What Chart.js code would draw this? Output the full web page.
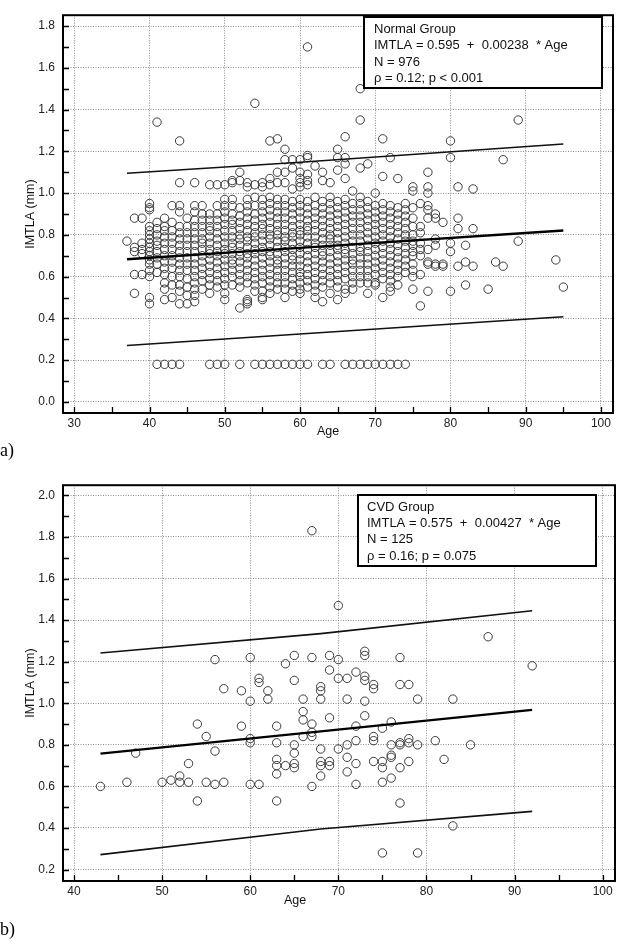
<!DOCTYPE html>
<html>
<head>
<meta charset="utf-8">
<script src="https://cdn.jsdelivr.net/npm/chart.js@4.4.0/dist/chart.umd.min.js"></script>
<style>
html, body { margin: 0; padding: 0; background: #fff; }
body { width: 623px; height: 945px; position: relative; overflow: hidden; }
.wrap { position: absolute; left: 0; width: 623px; }
#wa { top: 0; height: 470px; }
#wb { top: 470px; height: 475px; }
.tag { position: absolute; left: 0; font-family: "Liberation Serif", "Times New Roman", serif; font-size: 18px; line-height: 18px; color: #000; }
</style>
</head>
<body>
<div class="wrap" id="wa"><canvas id="chartA" width="623" height="470"></canvas></div>
<div class="wrap" id="wb"><canvas id="chartB" width="623" height="475"></canvas></div>
<div class="tag" style="top:441px">a)</div>
<div class="tag" style="top:920px">b)</div>
<script>
// ---- a) Normal group: ages and the IMTLA values seen at each age ----
const normalAge = [37, 38, 39, 40, 41, 42, 43, 44, 45, 46, 47, 48, 49, 50, 51, 52, 53, 54, 55, 56,
  57, 58, 59, 60, 61, 62, 63, 64, 65, 66, 67, 68, 69, 70, 71, 72, 73, 74, 75, 76, 77, 78, 79, 80,
  81, 82, 83, 85, 86, 87, 89, 94, 95];
const normalIMT = [
  [0.77],
  [0.88, 0.74, 0.72, 0.61, 0.52],
  [0.88, 0.76, 0.73, 0.71, 0.61],
  [0.95, 0.93, 0.92, 0.84, 0.82, 0.80, 0.78, 0.76, 0.74, 0.72, 0.70, 0.68, 0.66, 0.63, 0.60, 0.50, 0.47],
  [1.34, 0.86, 0.83, 0.80, 0.77, 0.75, 0.72, 0.69, 0.66, 0.62, 0.18],
  [0.88, 0.84, 0.82, 0.79, 0.76, 0.73, 0.70, 0.67, 0.64, 0.61, 0.57, 0.54, 0.49, 0.18],
  [0.94, 0.86, 0.82, 0.79, 0.76, 0.73, 0.70, 0.67, 0.64, 0.60, 0.56, 0.50, 0.18],
  [1.25, 1.05, 0.94, 0.91, 0.84, 0.81, 0.78, 0.75, 0.72, 0.69, 0.66, 0.63, 0.60, 0.56, 0.53, 0.47, 0.18],
  [0.88, 0.84, 0.81, 0.78, 0.75, 0.72, 0.69, 0.66, 0.63, 0.59, 0.55, 0.51, 0.47],
  [1.05, 0.94, 0.91, 0.87, 0.84, 0.81, 0.78, 0.75, 0.72, 0.69, 0.66, 0.63, 0.60, 0.57, 0.54, 0.51, 0.48],
  [0.94, 0.90, 0.87, 0.84, 0.81, 0.78, 0.76, 0.73, 0.70, 0.67, 0.64, 0.61, 0.58, 0.54],
  [1.04, 0.90, 0.87, 0.84, 0.82, 0.79, 0.76, 0.73, 0.71, 0.68, 0.65, 0.62, 0.59, 0.56, 0.52, 0.18],
  [1.04, 0.94, 0.90, 0.87, 0.84, 0.81, 0.78, 0.75, 0.72, 0.70, 0.67, 0.64, 0.61, 0.58, 0.55, 0.18],
  [1.04, 0.97, 0.94, 0.91, 0.88, 0.85, 0.82, 0.79, 0.76, 0.73, 0.71, 0.68, 0.65, 0.62, 0.59, 0.56, 0.52, 0.49, 0.18],
  [1.06, 1.05, 0.97, 0.94, 0.90, 0.87, 0.85, 0.82, 0.79, 0.76, 0.74, 0.71, 0.68, 0.66, 0.63, 0.60, 0.56],
  [1.10, 1.06, 0.93, 0.89, 0.86, 0.83, 0.80, 0.78, 0.75, 0.72, 0.70, 0.67, 0.64, 0.61, 0.58, 0.55, 0.45, 0.18],
  [1.05, 1.03, 0.97, 0.94, 0.91, 0.88, 0.85, 0.82, 0.79, 0.77, 0.74, 0.71, 0.69, 0.66, 0.63, 0.60, 0.57, 0.49, 0.48, 0.47],
  [1.43, 1.04, 0.98, 0.94, 0.90, 0.87, 0.84, 0.81, 0.79, 0.76, 0.73, 0.71, 0.68, 0.65, 0.62, 0.59, 0.56, 0.53, 0.18],
  [1.05, 1.03, 0.97, 0.94, 0.91, 0.88, 0.85, 0.83, 0.80, 0.77, 0.74, 0.72, 0.69, 0.66, 0.63, 0.60, 0.57, 0.53, 0.50, 0.49, 0.18],
  [1.25, 1.07, 1.04, 0.98, 0.95, 0.92, 0.89, 0.86, 0.83, 0.80, 0.78, 0.75, 0.72, 0.70, 0.67, 0.64, 0.61, 0.58, 0.55, 0.52, 0.18],
  [1.26, 1.10, 1.05, 0.97, 0.94, 0.91, 0.88, 0.85, 0.82, 0.80, 0.77, 0.74, 0.71, 0.68, 0.66, 0.63, 0.60, 0.57, 0.54, 0.18],
  [1.21, 1.16, 1.10, 1.05, 0.97, 0.94, 0.91, 0.88, 0.85, 0.82, 0.79, 0.77, 0.74, 0.72, 0.69, 0.66, 0.63, 0.60, 0.57, 0.54, 0.50, 0.18],
  [1.16, 1.12, 1.02, 0.96, 0.93, 0.90, 0.87, 0.84, 0.81, 0.79, 0.76, 0.73, 0.70, 0.68, 0.65, 0.62, 0.59, 0.56, 0.53, 0.18],
  [1.16, 1.10, 1.07, 1.05, 1.03, 0.97, 0.94, 0.91, 0.88, 0.85, 0.82, 0.80, 0.77, 0.74, 0.71, 0.68, 0.65, 0.62, 0.60, 0.57, 0.54, 0.52, 0.18],
  [1.70, 1.18, 1.17, 1.09, 1.06, 1.04, 0.96, 0.93, 0.90, 0.87, 0.84, 0.82, 0.79, 0.76, 0.73, 0.70, 0.67, 0.64, 0.61, 0.58, 0.55, 0.18],
  [1.13, 0.98, 0.94, 0.91, 0.88, 0.85, 0.82, 0.79, 0.76, 0.74, 0.71, 0.68, 0.65, 0.62, 0.59, 0.56, 0.53, 0.50],
  [1.10, 1.06, 0.96, 0.93, 0.90, 0.87, 0.84, 0.81, 0.78, 0.75, 0.72, 0.70, 0.67, 0.64, 0.61, 0.58, 0.55, 0.48, 0.18],
  [1.05, 0.98, 0.95, 0.92, 0.89, 0.86, 0.83, 0.80, 0.78, 0.75, 0.72, 0.69, 0.66, 0.63, 0.60, 0.57, 0.52, 0.18],
  [1.21, 1.17, 1.11, 0.96, 0.93, 0.90, 0.87, 0.84, 0.81, 0.78, 0.75, 0.73, 0.70, 0.67, 0.64, 0.61, 0.58, 0.55, 0.49],
  [1.27, 1.17, 1.14, 1.07, 0.97, 0.94, 0.91, 0.88, 0.85, 0.82, 0.79, 0.76, 0.73, 0.71, 0.68, 0.65, 0.62, 0.59, 0.54, 0.52, 0.18],
  [1.01, 0.95, 0.92, 0.89, 0.86, 0.83, 0.80, 0.77, 0.74, 0.71, 0.68, 0.66, 0.63, 0.60, 0.57, 0.54, 0.18],
  [1.50, 1.35, 1.12, 0.98, 0.95, 0.92, 0.89, 0.86, 0.83, 0.80, 0.77, 0.74, 0.72, 0.69, 0.66, 0.63, 0.60, 0.57, 0.18],
  [1.14, 0.96, 0.93, 0.90, 0.87, 0.84, 0.81, 0.78, 0.75, 0.72, 0.69, 0.66, 0.63, 0.60, 0.57, 0.52, 0.18],
  [1.00, 0.94, 0.91, 0.88, 0.85, 0.82, 0.79, 0.76, 0.73, 0.70, 0.67, 0.64, 0.61, 0.57, 0.56, 0.18],
  [1.26, 1.08, 0.95, 0.92, 0.89, 0.86, 0.83, 0.80, 0.77, 0.74, 0.71, 0.68, 0.65, 0.62, 0.59, 0.50, 0.18],
  [1.17, 0.94, 0.91, 0.88, 0.85, 0.82, 0.79, 0.76, 0.73, 0.70, 0.67, 0.64, 0.61, 0.58, 0.55, 0.53, 0.18],
  [1.07, 0.93, 0.90, 0.87, 0.84, 0.81, 0.78, 0.75, 0.72, 0.69, 0.66, 0.63, 0.60, 0.56, 0.18],
  [0.95, 0.92, 0.89, 0.86, 0.83, 0.80, 0.77, 0.74, 0.71, 0.68, 0.65, 0.62, 0.18],
  [1.03, 1.01, 0.93, 0.88, 0.84, 0.80, 0.77, 0.75, 0.72, 0.70, 0.66, 0.63, 0.60, 0.54],
  [0.95, 0.84, 0.81, 0.76, 0.73, 0.70, 0.61, 0.46],
  [1.10, 1.03, 1.00, 0.94, 0.92, 0.88, 0.73, 0.67, 0.66, 0.53],
  [0.90, 0.88, 0.78, 0.75, 0.66, 0.65],
  [0.86, 0.66, 0.65],
  [1.25, 1.17, 0.76, 0.72, 0.53],
  [1.03, 0.88, 0.83, 0.65],
  [0.75, 0.67, 0.56],
  [1.02, 0.83, 0.65],
  [0.54],
  [0.67],
  [1.16, 0.65],
  [1.35, 0.77],
  [0.68],
  [0.55]
];
// regression line and prediction band
const normalFitAge = [37, 60, 95];
const normalFit = [0.683, 0.738, 0.821];
const normalUpper = [1.095, 1.148, 1.235];
const normalLower = [0.270, 0.325, 0.408];
const normalText = ['Normal Group', 'IMTLA = 0.595  +  0.00238  * Age', 'N = 976', '\u03c1 = 0.12; p < 0.001'];

// ---- b) CVD group ----
const cvdAge = [43, 46, 47, 50, 51, 52, 53, 54, 55, 56, 57, 59, 60, 61, 62, 63, 64, 65, 66, 67, 68,
  69, 70, 71, 72, 73, 74, 75, 76, 77, 78, 79, 81, 82, 83, 85, 87, 92];
const cvdIMT = [
  [0.60], [0.62], [0.76], [0.62], [0.63], [0.65, 0.62], [0.71, 0.62], [0.90, 0.53], [0.84, 0.62],
  [1.21, 0.77, 0.61], [1.07, 0.62], [1.06, 0.89], [1.22, 1.01, 0.83, 0.81, 0.61], [1.12, 1.10, 0.61],
  [1.06, 1.02], [0.89, 0.81, 0.73, 0.70, 0.66, 0.53], [1.19, 0.70], [1.23, 1.11, 0.80, 0.76, 0.71, 0.69],
  [1.02, 0.96, 0.92, 0.84], [1.83, 1.22, 0.90, 0.86, 0.84, 0.60], [1.08, 1.06, 1.02, 0.78, 0.72, 0.70, 0.65],
  [1.23, 1.16, 0.93, 0.72, 0.70], [1.47, 1.21, 1.12, 0.78], [1.12, 1.02, 0.80, 0.74, 0.67],
  [1.15, 0.89, 0.82, 0.71, 0.61], [1.25, 1.23, 1.13, 1.11, 1.01, 0.94], [1.09, 1.07, 0.84, 0.82, 0.72],
  [0.88, 0.72, 0.69, 0.62, 0.28], [0.91, 0.80, 0.75, 0.74, 0.64], [1.22, 1.09, 0.81, 0.80, 0.69, 0.52],
  [1.09, 0.83, 0.81, 0.72], [1.02, 0.80, 0.28], [0.82], [0.73], [1.02, 0.41], [0.80], [1.32], [1.18]
];
const cvdFitAge = [43, 68, 92];
const cvdFit = [0.758, 0.865, 0.968];
const cvdUpper = [1.242, 1.335, 1.445];
const cvdLower = [0.272, 0.395, 0.480];
const cvdText = ['CVD Group', 'IMTLA = 0.575  +  0.00427  * Age', 'N = 125', '\u03c1 = 0.16; p = 0.075'];

// ---- axes ----
const ageTicksA = [30, 40, 50, 60, 70, 80, 90, 100];
const ageMinorA = [35, 45, 55, 65, 75, 85, 95];
const imtTicksA = [0.0, 0.2, 0.4, 0.6, 0.8, 1.0, 1.2, 1.4, 1.6, 1.8];
const imtMinorA = [0.1, 0.3, 0.5, 0.7, 0.9, 1.1, 1.3, 1.5, 1.7];
const ageTicksB = [40, 50, 60, 70, 80, 90, 100];
const ageMinorB = [45, 55, 65, 75, 85, 95];
const imtTicksB = [0.2, 0.4, 0.6, 0.8, 1.0, 1.2, 1.4, 1.6, 1.8, 2.0];
const imtMinorB = [0.3, 0.5, 0.7, 0.9, 1.1, 1.3, 1.5, 1.7, 1.9];

const FONT = '"Liberation Sans", Arial, Helvetica, sans-serif';

function toPoints(ages, lists) {
  const pts = [];
  ages.forEach((a, i) => lists[i].forEach(v => pts.push({ x: a, y: v })));
  return pts;
}
function toLine(xs, ys) {
  return xs.map((a, i) => ({ x: a, y: ys[i] }));
}

// frame, inward ticks, statistics box and axis titles
const panelDecor = {
  id: 'panelDecor',
  afterDatasetsDraw(chart, args, o) {
    const { ctx, chartArea: a } = chart;
    const x = chart.scales.x, y = chart.scales.y;
    ctx.save();
    ctx.strokeStyle = '#000';
    ctx.lineWidth = 1.3;
    ctx.beginPath();
    o.xMajor.concat(o.xMinor).forEach(v => {
      const px = Math.round(x.getPixelForValue(v)) + 0.5;
      ctx.moveTo(px, a.bottom); ctx.lineTo(px, a.bottom - 6);
    });
    o.yMajor.concat(o.yMinor).forEach(v => {
      const py = Math.round(y.getPixelForValue(v)) + 0.5;
      ctx.moveTo(a.left, py); ctx.lineTo(a.left + 6, py);
    });
    ctx.stroke();

    ctx.lineWidth = 2;
    ctx.strokeRect(a.left, a.top, a.right - a.left, a.bottom - a.top);

    const b = o.box;
    ctx.fillStyle = '#fff';
    ctx.fillRect(b.x, b.y, b.w, b.h);
    ctx.lineWidth = 2;
    ctx.strokeRect(b.x, b.y, b.w, b.h);
    ctx.fillStyle = '#111';
    ctx.font = '13px ' + FONT;
    ctx.textBaseline = 'middle';
    ctx.textAlign = 'left';
    o.lines.forEach((t, i) => ctx.fillText(t, b.tx, b.ty + i * b.dy));

    ctx.font = '12.5px ' + FONT;
    ctx.textAlign = 'center';
    ctx.fillText('Age', o.xTitle[0], o.xTitle[1]);
    ctx.translate(31, (a.top + a.bottom) / 2);
    ctx.rotate(-Math.PI / 2);
    ctx.fillText('IMTLA (mm)', 0, 0);
    ctx.restore();
  }
};

function makeChart(id, p) {
  return new Chart(document.getElementById(id), {
    type: 'scatter',
    data: {
      datasets: [
        { type: 'line', data: toLine(p.fitAge, p.fit), borderColor: '#000', borderWidth: 2.4, pointRadius: 0, showLine: true, fill: false, tension: 0, order: 0 },
        { type: 'line', data: toLine(p.fitAge, p.upper), borderColor: '#111', borderWidth: 1.6, pointRadius: 0, showLine: true, fill: false, tension: 0, order: 0 },
        { type: 'line', data: toLine(p.fitAge, p.lower), borderColor: '#111', borderWidth: 1.6, pointRadius: 0, showLine: true, fill: false, tension: 0, order: 0 },
        { data: p.points, pointRadius: 4.2, pointBorderWidth: 1, pointBorderColor: '#3a3a3a', pointBackgroundColor: 'rgba(255,255,255,0)', pointHoverRadius: 4.2, order: 1 }
      ]
    },
    options: {
      responsive: false,
      animation: false,
      events: [],
      layout: { padding: p.pad },
      plugins: {
        legend: { display: false },
        tooltip: { enabled: false },
        panelDecor: p.decor
      },
      scales: {
        x: {
          type: 'linear', min: p.xMin, max: p.xMax,
          afterBuildTicks: s => { s.ticks = p.xTicks.map(v => ({ value: v })); },
          afterFit: s => { s.height = p.xH; },
          grid: { color: '#8c8c8c', lineWidth: 1, drawTicks: false },
          border: { display: false, dash: [1, 1.5] },
          ticks: { padding: 3, color: '#222', font: { family: FONT, size: 12 }, callback: v => String(v), maxRotation: 0, autoSkip: false }
        },
        y: {
          type: 'linear', min: p.yMin, max: p.yMax,
          afterBuildTicks: s => { s.ticks = p.yTicks.map(v => ({ value: v })); },
          afterFit: s => { s.width = 63; },
          grid: { color: '#8c8c8c', lineWidth: 1, drawTicks: false },
          border: { display: false, dash: [1, 1.5] },
          ticks: { padding: 8, color: '#222', font: { family: FONT, size: 12 }, callback: v => Number(v).toFixed(1), autoSkip: false }
        }
      }
    },
    plugins: [panelDecor]
  });
}

makeChart('chartA', {
  points: toPoints(normalAge, normalIMT),
  fitAge: normalFitAge, fit: normalFit, upper: normalUpper, lower: normalLower,
  xMin: 28.5, xMax: 101.6, yMin: -0.053, yMax: 1.852,
  xTicks: ageTicksA, yTicks: imtTicksA,
  xH: 57, pad: { top: 8, right: 10, left: 0, bottom: 0 },
  decor: {
    xMajor: ageTicksA, xMinor: ageMinorA, yMajor: imtTicksA, yMinor: imtMinorA,
    box: { x: 364, y: 17, w: 238, h: 71, tx: 374, ty: 29.5, dy: 16.4 },
    lines: normalText, xTitle: [328, 432]
  }
});

makeChart('chartB', {
  points: toPoints(cvdAge, cvdIMT),
  fitAge: cvdFitAge, fit: cvdFit, upper: cvdUpper, lower: cvdLower,
  xMin: 38.75, xMax: 101.4, yMin: 0.145, yMax: 2.049,
  xTicks: ageTicksB, yTicks: imtTicksB,
  xH: 64, pad: { top: 9, right: 8, left: 0, bottom: 0 },
  decor: {
    xMajor: ageTicksB, xMinor: ageMinorB, yMajor: imtTicksB, yMinor: imtMinorB,
    box: { x: 358, y: 25, w: 238, h: 71, tx: 367, ty: 37.5, dy: 16.2 },
    lines: cvdText, xTitle: [295, 431]
  }
});
</script>
</body>
</html>
